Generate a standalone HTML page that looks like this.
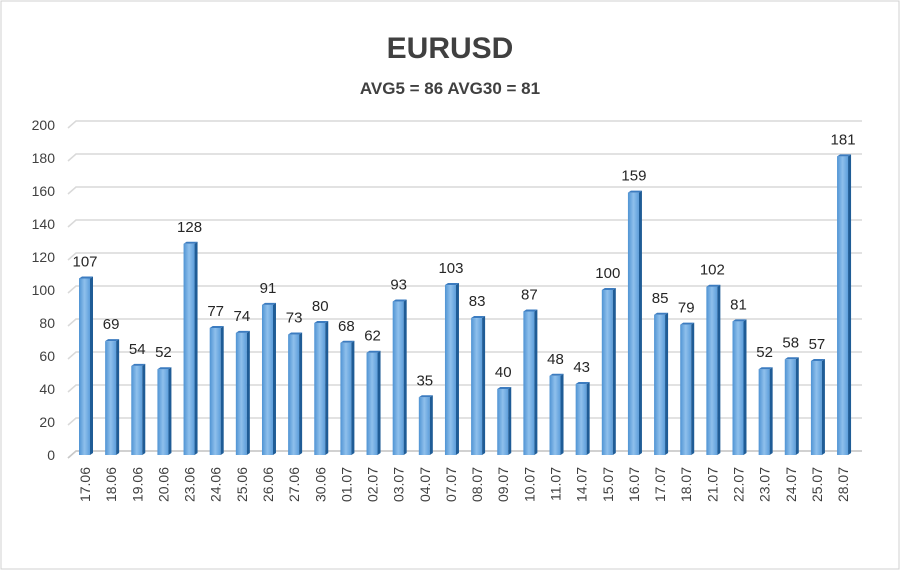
<!DOCTYPE html>
<html><head><meta charset="utf-8"><style>
body{margin:0;background:#fff;}
svg{display:block;font-family:"Liberation Sans",sans-serif;}
</style></head><body>
<svg id="c" width="900" height="570" viewBox="0 0 900 570">
<defs>
<linearGradient id="g" x1="0" x2="1"><stop offset="0" stop-color="#4f93d3"/><stop offset="0.5" stop-color="#8fc0ec"/><stop offset="1" stop-color="#5d9edb"/></linearGradient>
</defs>
<rect x="1" y="1" width="898" height="568" fill="#fff" stroke="#d0d0d0"/>
<text x="450" y="58" text-anchor="middle" font-size="30" font-weight="bold" fill="#404040">EURUSD</text>
<text x="450" y="94" text-anchor="middle" font-size="17" font-weight="bold" fill="#404040">AVG5 = 86 AVG30 = 81</text>
<g id="grid"></g><g id="bars"></g><g id="labels"></g>
</svg>
<script>
const categories=["17.06","18.06","19.06","20.06","23.06","24.06","25.06","26.06","27.06","30.06","01.07","02.07","03.07","04.07","07.07","08.07","09.07","10.07","11.07","14.07","15.07","16.07","17.07","18.07","21.07","22.07","23.07","24.07","25.07","28.07"];
const values=[107,69,54,52,128,77,74,91,73,80,68,62,93,35,103,83,40,87,48,43,100,159,85,79,102,81,52,58,57,181];
const yTicks=[0,20,40,60,80,100,120,140,160,180,200];
const NS="http://www.w3.org/2000/svg";
const y=v=>455-v*(330/200);
const x=i=>85+i*26.14;
function mk(t,a,p,txt){const e=document.createElementNS(NS,t);for(const k in a)e.setAttribute(k,a[k]);if(txt!==undefined)e.textContent=txt;p.appendChild(e);return e;}
const G=document.getElementById('grid'),B=document.getElementById('bars'),L=document.getElementById('labels');
yTicks.forEach(t=>{
 const l=mk('polyline',{points:`68,${y(t)+3} 76,${y(t)-4} 862,${y(t)-4}`,fill:'none',stroke:'#d9d9d9','stroke-width':1.5},G);
 
 
 const tx=mk('text',{x:55,y:y(t)+5,'text-anchor':'end','font-size':14,fill:'#404040'},G,String(t));
 
 
});
mk('polyline',{points:'68,458 76,451 862,451',fill:'none',stroke:'#c8c8c8','stroke-width':1.5},G);
values.forEach((v,i)=>{
 const cx=x(i),top=y(v),w=11;
 const g=mk('g',{},B);
 
 
 mk('rect',{x:cx-6,y:top,width:w,height:455-top,fill:'url(#g)'},g);
 mk('polygon',{points:`${cx+5},${top} ${cx+8},${top-2} ${cx+8},${453} ${cx+5},455`,fill:'#1f5c96'},g);
 mk('polygon',{points:`${cx-6},${top} ${cx-3},${top-2} ${cx+8},${top-2} ${cx+5},${top}`,fill:'#3c7cc0'},g);
 const vl=mk('text',{x:cx,y:top-12,'text-anchor':'middle','font-size':15,fill:'#262626'},L,String(v));
 
 
 const cl=mk('text',{x:0,y:0,'text-anchor':'end','font-size':14,fill:'#404040',transform:`translate(${cx+5},467) rotate(-90)`},L,categories[i]);
 
 
});
</script>
</body></html>
